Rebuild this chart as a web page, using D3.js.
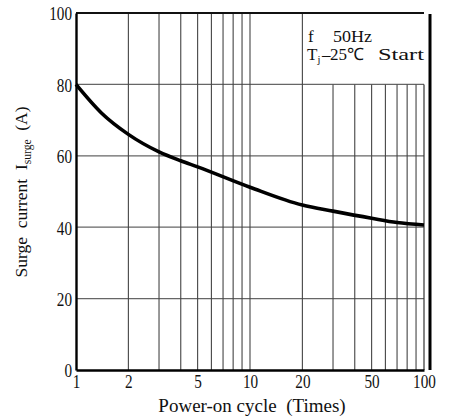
<!DOCTYPE html>
<html><head><meta charset="utf-8">
<script src="https://cdn.jsdelivr.net/npm/d3@7"></script>
<style>body{margin:0;background:#fff}svg{display:block}text{font-family:"Liberation Serif","Times New Roman",serif;fill:#111;white-space:pre}</style>
</head><body><svg id="c" width="451" height="420"></svg>
<script>
const cycles = [1, 1.4, 2, 3, 4, 5, 10, 20, 30, 50, 70, 100];
const current = [80, 72, 66, 61.1, 58.6, 56.9, 51.2, 46.2, 44.5, 42.5, 41.3, 40.6];
const xTicks = [1, 2, 5, 10, 20, 50, 100];
const xGrid = [2,3,4,5,6,7,8,9,10,20,30,40,50,60,70,80,90];
const yTicks = [0, 20, 40, 60, 80, 100];
const yGrid = [20, 40, 60, 80];

const svg = d3.select("#c");
const L = 76, R = 424, T = 13, B = 370;
const x = d3.scaleLog().domain([1, 100]).range([L, R]);
const y = d3.scaleLinear().domain([0, 100]).range([B, T]);
const boxTop = y(80); // annotation area blanks grid above 80 for x>20

// horizontal grid
svg.selectAll(".hg").data(yGrid).enter().append("line")
  .attr("x1", L).attr("x2", R).attr("y1", d => y(d)).attr("y2", d => y(d))
  .attr("stroke", "#666").attr("stroke-width", 1.2);
// vertical grid
svg.selectAll(".vg").data(xGrid).enter().append("line")
  .attr("x1", d => x(d)).attr("x2", d => x(d))
  .attr("y1", d => d > 20 ? boxTop : T).attr("y2", B)
  .attr("stroke", "#444").attr("stroke-width", 1.1);
// frame
svg.append("line").attr("x1", L).attr("x2", R).attr("y1", T).attr("y2", T).attr("stroke", "#111").attr("stroke-width", 1.8);
svg.append("line").attr("x1", R).attr("x2", R).attr("y1", boxTop).attr("y2", B).attr("stroke", "#333").attr("stroke-width", 1.2);
svg.append("line").attr("x1", 430).attr("x2", 430).attr("y1", 14).attr("y2", B).attr("stroke", "#000").attr("stroke-width", 3);

// axes
const xAxis = svg.append("g").attr("transform", `translate(0,${B})`)
  .call(d3.axisBottom(x).tickValues(xTicks).tickFormat(d3.format("d")).tickSize(0).tickPadding(5));
const yAxis = svg.append("g").attr("transform", `translate(${L},0)`)
  .call(d3.axisLeft(y).tickValues(yTicks).tickSize(0).tickPadding(5));
[xAxis, yAxis].forEach(g => {
  g.select(".domain").attr("stroke", "#000").attr("stroke-width", 2.4);
  g.selectAll("text").style("font-family", '"Liberation Serif",serif').style("font-size", "19px")
    .attr("fill", "#111").attr("transform", "scale(0.8,1)");
});
xAxis.selectAll("text").attr("dy", "0.71em");
yAxis.selectAll("text").attr("dy", "0.36em");

// curve
const line = d3.line().x((d, i) => x(cycles[i])).y(d => y(d)).curve(d3.curveMonotoneX);
svg.append("path").datum(current).attr("d", line)
  .attr("fill", "none").attr("stroke", "#000").attr("stroke-width", 3.6).attr("stroke-linejoin", "round");

// axis titles
svg.append("text").attr("x", 252).attr("y", 412).attr("text-anchor", "middle")
  .style("font-size", "19px").text("Power-on cycle  (Times)");
const yl = svg.append("text").attr("transform", "translate(27,192) rotate(-90)").attr("text-anchor", "middle")
  .style("font-size", "17.5px");
yl.append("tspan").text("Surge  current  I");
yl.append("tspan").attr("dy", 4).style("font-size", "11.5px").text("surge");
yl.append("tspan").attr("dy", -4).text("  (A)");

// annotation
const a1 = svg.append("text").attr("y", 42).style("font-size", "17px");
a1.append("tspan").attr("x", 308).text("f");
a1.append("tspan").attr("x", 333).attr("textLength", 39).attr("lengthAdjust", "spacingAndGlyphs").text("50Hz");
const a2 = svg.append("text").attr("y", 60).style("font-size", "17px");
a2.append("tspan").attr("x", 307).text("T");
a2.append("tspan").attr("dy", 3).style("font-size", "10.5px").text("j");
a2.append("tspan").attr("dy", -3).attr("x", 322).text("–");
a2.append("tspan").attr("x", 330).text("25℃");
a2.append("tspan").attr("x", 378).attr("textLength", 46).attr("lengthAdjust", "spacingAndGlyphs").text("Start");
</script></body></html>
